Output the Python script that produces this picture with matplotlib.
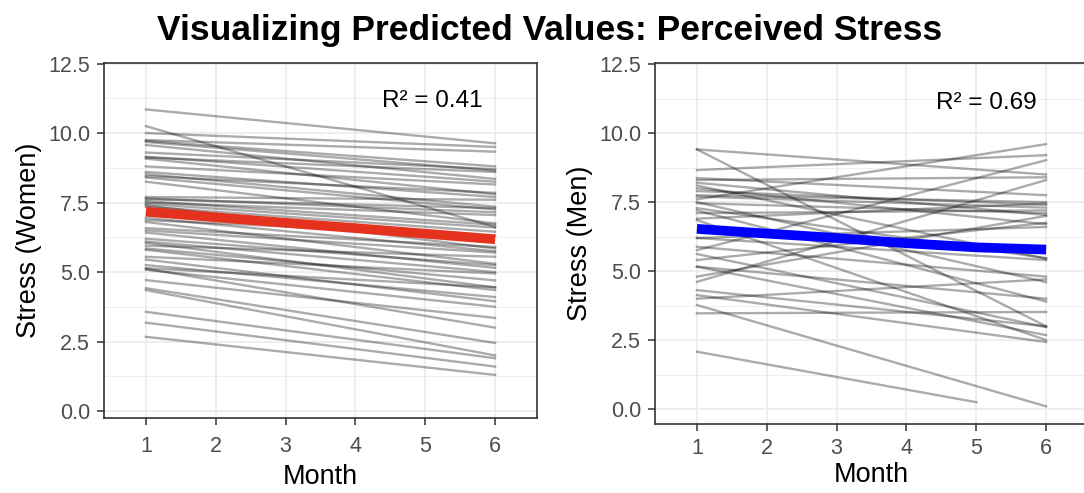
import matplotlib
matplotlib.use('Agg')
import matplotlib.pyplot as plt
from matplotlib.ticker import MultipleLocator

plt.rcParams['font.family'] = ['Liberation Sans', 'DejaVu Sans']

months = [1, 2, 3, 4, 5, 6]

# women: predicted stress at month 1 and month 6, one pair per person
women_start = [10.85, 10.25, 10.0, 9.75, 9.72, 9.68, 9.57, 9.3, 9.15, 9.12,
               9.08, 8.8, 8.6, 8.52, 8.45, 8.4, 8.25, 7.7, 7.65, 7.62,
               7.55, 7.5, 7.45, 7.4, 7.35, 6.95, 6.87, 6.8, 6.58, 6.5,
               6.42, 6.2, 6.1, 6.05, 5.95, 5.85, 5.8, 5.55, 5.45, 5.25,
               5.14, 5.12, 5.08, 4.71, 4.42, 4.35, 3.57, 3.18, 2.67]
women_end = [9.63, 6.62, 9.5, 9.33, 8.8, 8.65, 8.35, 8.7, 8.25, 8.6,
             7.8, 8.15, 7.7, 7.35, 7.85, 7.25, 6.75, 7.6, 7.15, 7.3,
             6.7, 7.05, 6.6, 5.85, 6.45, 5.75, 6.3, 5.3, 5.9, 5.7,
             5.15, 5.25, 5.0, 4.45, 5.55, 4.7, 4.35, 4.95, 3.95, 4.1,
             4.45, 3.0, 3.75, 3.35, 2.45, 2.0, 1.9, 1.6, 1.3]
women_mean = [7.17, 6.97, 6.77, 6.58, 6.38, 6.18]

# men: start (month 1), end value and last month observed
men_start = [9.41, 9.41, 8.66, 8.37, 8.3, 8.2, 8.1, 8.0, 7.9, 7.75,
             7.7, 7.6, 7.5, 7.46, 7.28, 7.2, 7.1, 6.9, 6.85, 6.2,
             6.2, 5.88, 5.76, 5.62, 5.4, 5.16, 5.16, 4.8, 4.61, 4.31,
             4.13, 4.0, 3.77, 3.47, 2.08]
men_end = [8.5, 3.0, 9.2, 7.75, 8.4, 7.03, 5.45, 6.7, 7.4, 7.5,
           7.3, 9.6, 4.6, 7.1, 5.47, 3.9, 7.2, 7.45, 2.5, 6.6,
           5.4, 4.8, 9.02, 2.97, 6.75, 4.0, 2.68, 7.0, 8.3, 3.0,
           2.43, 4.7, 0.1, 3.52, 0.25]
men_last = [6] * 34 + [5]
men_mean = [6.53, 6.36, 6.20, 6.01, 5.86, 5.78]

fig = plt.figure(figsize=(10.84, 4.93), dpi=100)
ax1 = fig.add_axes([104 / 1084, (493 - 418) / 493, 433 / 1084, 355 / 493])
ax2 = fig.add_axes([655 / 1084, (493 - 424) / 493, 433 / 1084, 361 / 493])


def style(ax, ylo, yhi, xpad, xlabpad):
    ax.set_xlim(0.4, 6.6)
    ax.set_ylim(ylo, yhi)
    ax.set_xticks(months)
    ax.yaxis.set_major_locator(MultipleLocator(2.5))
    ax.yaxis.set_minor_locator(MultipleLocator(1.25))
    ax.yaxis.set_major_formatter(matplotlib.ticker.FormatStrFormatter('%.1f'))
    ax.grid(True, which='major', color='#EBEBEB', lw=1.2, zorder=0)
    ax.grid(True, which='minor', axis='y', color='#EBEBEB', lw=0.6, zorder=0)
    ax.set_axisbelow(True)
    for s in ax.spines.values():
        s.set_color('#333333')
        s.set_linewidth(1.2)
    ax.tick_params(which='major', length=5, width=1.1, color='#333333',
                   labelcolor='#4D4D4D', labelsize=15.5, pad=5)
    ax.tick_params(axis='x', pad=xpad)
    ax.tick_params(which='minor', length=0)
    ax.set_xlabel('Month', fontsize=19.5, labelpad=xlabpad)


style(ax1, -0.25, 12.52, 8, 5)
style(ax2, -0.54, 12.54, 5, 2)

for s, e in zip(women_start, women_end):
    ax1.plot([1, 6], [s, e], color='black', alpha=0.33, lw=1.7, zorder=2)
ax1.plot(months, women_mean, color='#E5321F', lw=7, solid_capstyle='butt', zorder=3)
ax1.set_ylabel('Stress (Women)', fontsize=19.5, labelpad=4)
ax1.text(5.1, 11.15, 'R² = 0.41', fontsize=17.5, ha='center', va='center')

for s, e, m in zip(men_start, men_end, men_last):
    ax2.plot([1, m], [s, e], color='black', alpha=0.33, lw=1.7, zorder=2)
ax2.plot(months, men_mean, color='#0000FF', lw=7, solid_capstyle='butt', zorder=3)
ax2.set_ylabel('Stress (Men)', fontsize=19.5, labelpad=4)
ax2.text(5.15, 11.1, 'R² = 0.69', fontsize=17.5, ha='center', va='center')

fig.text(550 / 1084, (493 - 40) / 493, 'Visualizing Predicted Values: Perceived Stress',
         ha='center', va='baseline', fontsize=25.5, fontweight='bold')

fig.savefig('out.png', dpi=100)
